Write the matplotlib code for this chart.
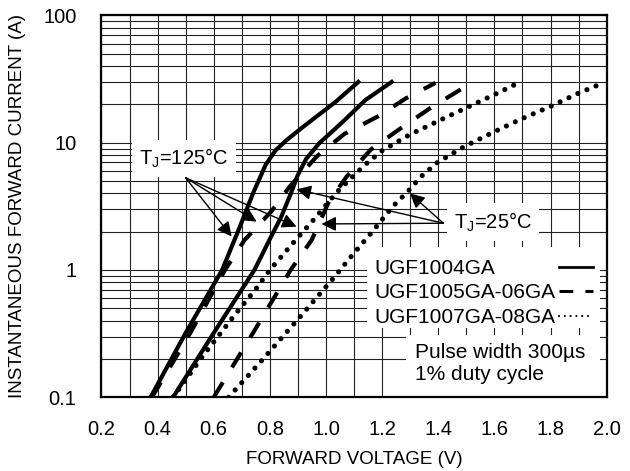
import matplotlib
matplotlib.use("Agg")
import matplotlib.pyplot as plt
from matplotlib.patches import Rectangle
from matplotlib.lines import Line2D
from matplotlib.ticker import FixedLocator, LogLocator, NullFormatter

plt.rcParams["font.family"] = ["Liberation Sans", "DejaVu Sans"]
plt.rcParams["mathtext.fontset"] = "custom"
plt.rcParams["mathtext.rm"] = "Liberation Sans"

# UGF1004GA (solid)
solid_125_v = [0.375, 0.50, 0.63, 0.69, 0.74, 0.785, 0.82, 0.86, 0.92, 1.035, 1.115]
solid_125_i = [0.1, 0.32, 1.0, 2.1, 4.0, 6.7, 8.7, 10.5, 13.4, 21.0, 30.0]
solid_25_v = [0.455, 0.60, 0.745, 0.80, 0.84, 0.875, 0.90, 0.93, 0.976, 1.06, 1.14, 1.234]
solid_25_i = [0.1, 0.32, 1.0, 1.75, 2.6, 4.0, 5.6, 7.5, 9.9, 14.6, 21.6, 30.0]

# UGF1005GA-06GA (dashed)
dash_125_v = [0.38, 0.52, 0.64, 0.71, 0.806, 0.87, 0.967, 1.065, 1.183, 1.286, 1.39]
dash_125_i = [0.1, 0.33, 1.0, 1.72, 2.9, 4.5, 7.8, 11.7, 16.0, 22.4, 29.5]
dash_25_v = [0.60, 0.74, 0.874, 0.949, 1.008, 1.073, 1.159, 1.26, 1.37, 1.476, 1.505]
dash_25_i = [0.1, 0.32, 1.0, 1.72, 3.36, 5.4, 8.8, 12.7, 18.6, 25.9, 28.5]

# UGF1007GA-08GA (dotted)
dot_125_v = [0.455, 0.564, 0.677, 0.748, 0.80, 0.89, 0.964, 1.035, 1.064, 1.142,
             1.20, 1.296, 1.40, 1.50, 1.602, 1.67]
dot_125_i = [0.1, 0.215, 0.45, 0.70, 1.0, 1.7, 2.6, 4.0, 4.65, 6.8,
             8.65, 11.5, 14.8, 18.8, 24.0, 28.4]
dot_25_v = [0.653, 0.776, 0.90, 1.024, 1.094, 1.165, 1.237, 1.29, 1.338, 1.397,
            1.492, 1.593, 1.694, 1.798, 1.898, 1.97]
dot_25_i = [0.1, 0.2, 0.41, 0.85, 1.31, 2.0, 3.14, 4.1, 5.4, 7.0,
            9.3, 12.0, 15.3, 19.2, 24.4, 28.4]

x_ticks = [0.2, 0.4, 0.6, 0.8, 1.0, 1.2, 1.4, 1.6, 1.8, 2.0]
y_ticks = [0.1, 1, 10, 100]
y_ticklabels = ["0.1", "1", "10", "100"]
legend_labels = ["UGF1004GA", "UGF1005GA-06GA", "UGF1007GA-08GA"]

# flechas: origen y puntas
tj125_text = (0.494, 7.5)
tj125_origin = (0.50, 5.3)
tj125_tips = [(0.664, 1.83), (0.753, 2.4), (0.895, 2.19)]
tj25_text = (1.595, 2.38)
tj25_origin = (1.418, 2.33)
tj25_tips = [(1.299, 4.0), (0.895, 4.3), (0.984, 2.3)]

fig = plt.figure(figsize=(6.3, 4.71), dpi=100)
ax = fig.add_axes([0.161, 0.1565, 0.802, 0.8108])
ax.set_yscale("log")
ax.set_xlim(0.2, 2.0)
ax.set_ylim(0.1, 100)

# rejilla
ax.xaxis.set_major_locator(FixedLocator(x_ticks))
ax.xaxis.set_minor_locator(FixedLocator([0.2 + 0.1 * k for k in range(19)]))
ax.yaxis.set_major_locator(FixedLocator(y_ticks))
ax.yaxis.set_minor_locator(LogLocator(base=10, subs=range(2, 10)))
ax.yaxis.set_minor_formatter(NullFormatter())
ax.set_xticklabels([f"{v:.1f}" for v in x_ticks])
ax.set_yticklabels(y_ticklabels)
ax.grid(which="both", color="#222222", linewidth=0.8, zorder=1)
ax.set_axisbelow(True)
ax.tick_params(which="both", length=0, labelsize=14.5)
ax.tick_params(axis="y", pad=18)
ax.tick_params(axis="x", pad=16)
for s in ax.spines.values():
    s.set_linewidth(1.6)
    s.set_zorder(6)

lw = 3.0
ax.plot(solid_125_v, solid_125_i, color="black", lw=lw, zorder=3)
ax.plot(solid_25_v, solid_25_i, color="black", lw=lw, zorder=3)
for v, i in [(dash_125_v, dash_125_i), (dash_25_v, dash_25_i)]:
    ax.plot(v, i, color="black", lw=lw, dashes=(4.2, 4.2), zorder=3)
for v, i in [(dot_125_v, dot_125_i), (dot_25_v, dot_25_i)]:
    ax.plot(v, i, color="black", lw=3.7, dashes=(0.01, 1.9),
            dash_capstyle="round", zorder=3)

# anotaciones
box = dict(boxstyle="square,pad=0.35", fc="white", ec="none")
ax.text(*tj125_text, "T$_\\mathregular{J}$=125°C", fontsize=14.5, ha="center",
        va="center", bbox=box, zorder=5)
ax.text(*tj25_text, "T$_\\mathregular{J}$=25°C", fontsize=14.5, ha="center",
        va="center", bbox=box, zorder=5)
arrow = dict(arrowstyle="-|>", color="black", lw=1.0, mutation_scale=22,
             shrinkA=0, shrinkB=0)
for tip in tj125_tips:
    ax.annotate("", xy=tip, xytext=tj125_origin, arrowprops=arrow, zorder=4)
for tip in tj25_tips:
    ax.annotate("", xy=tip, xytext=tj25_origin, arrowprops=arrow, zorder=4)

# leyenda a mano (texto a la izquierda, muestra a la derecha)
ax.add_patch(Rectangle((0.5255, 0.181), 0.462, 0.213, transform=ax.transAxes,
                       fc="white", ec="none", zorder=5))
ax.add_patch(Rectangle((0.602, 0.003), 0.385, 0.16, transform=ax.transAxes,
                       fc="white", ec="none", zorder=5))
rows_y = [0.338, 0.275, 0.210]
styles = [dict(lw=2.0), dict(lw=2.2, dashes=(4.5, 4.0)),
          dict(lw=1.6, dashes=(0.01, 2.6), dash_capstyle="round")]
for lab, yy, st in zip(legend_labels, rows_y, styles):
    ax.text(0.541, yy, lab, transform=ax.transAxes, fontsize=15, va="center",
            ha="left", zorder=6)
    ax.add_line(Line2D([0.905, 0.973], [yy + 0.004, yy + 0.004],
                       transform=ax.transAxes, color="black", zorder=6, **st))
ax.text(0.62, 0.088, "Pulse width 300µs\n1% duty cycle", transform=ax.transAxes,
        fontsize=15, va="center", ha="left", linespacing=1.2, zorder=6)

ax.set_xlabel("FORWARD VOLTAGE (V)", fontsize=13.5, labelpad=9)
ax.set_ylabel("INSTANTANEOUS FORWARD CURRENT (A)", fontsize=13.5, labelpad=12)

fig.savefig("out.png", dpi=100)
